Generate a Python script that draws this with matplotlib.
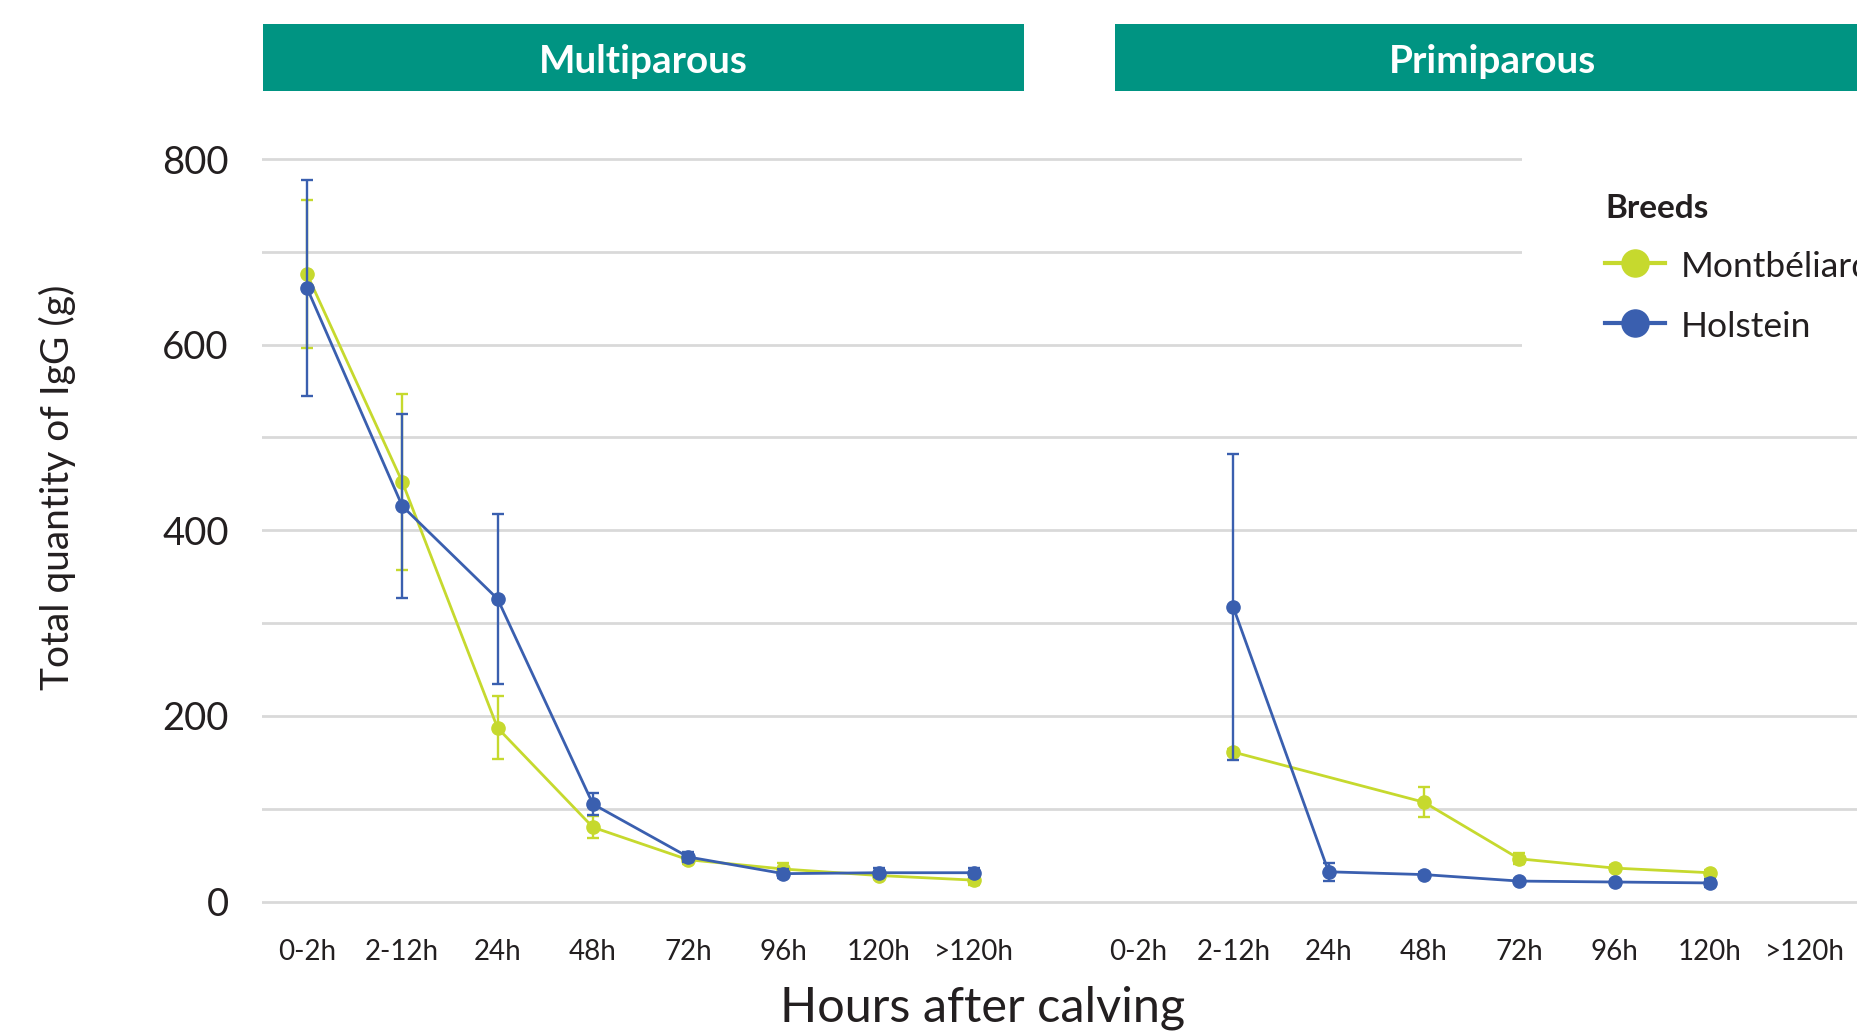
import numpy as np
import matplotlib
matplotlib.use("Agg")
import matplotlib.pyplot as plt
from matplotlib.patches import Rectangle

# ---------------- data ----------------
categories = ["0-2h", "2-12h", "24h", "48h", "72h", "96h", "120h", ">120h"]
panels = ["Multiparous", "Primiparous"]
breeds = ["Montbéliarde", "Holstein"]

multi_montbeliarde = [676, 452, 187, 80, 45, 35, 28, 23]
multi_montbeliarde_err = [80, 95, 34, 12, 5, 6, 4, 5]
multi_holstein = [661, 426, 326, 105, 48, 30, 31, 31]
multi_holstein_err = [116, 99, 92, 12, 5, 5, 5, 5]

prim_montbeliarde = [np.nan, 161, np.nan, 107, 46, 36, 31, np.nan]
prim_montbeliarde_err = [np.nan, 3, np.nan, 16, 6, 3, 3, np.nan]
prim_holstein = [np.nan, 317, 32, 29, 22, 21, 20, np.nan]
prim_holstein_err = [np.nan, 165, 10, 3, 2, 2, 4, np.nan]

y_ticks = [0, 200, 400, 600, 800]
y_grid = [0, 100, 200, 300, 400, 500, 600, 700, 800]

# ---------------- style ----------------
GREEN = "#C6D92E"
BLUE = "#3A5FAF"
TEAL = "#009482"
GRID = "#D9D9D9"
TEXT = "#231F20"

plt.rcParams['font.family'] = ['Lato', 'DejaVu Sans']

W, H, DPI = 1857, 1032, 100
fig = plt.figure(figsize=(W / DPI, H / DPI), dpi=DPI)
fig.patch.set_facecolor("white")

def fx(px):
    return px / W

def fy(py):
    return 1 - py / H

# layout (pixels)
x0_px, step_px, panel_offset = 307, 95.3, 8.72
y0_px, ppu = 901.5, 742.5 / 800
ax_left_px = 262
ylo, yhi = -20, 830
ax_bottom_px = y0_px - ylo * ppu
ax_top_px = y0_px - yhi * ppu

ax = fig.add_axes([fx(ax_left_px), fy(ax_bottom_px), fx(W - ax_left_px),
                   (ax_bottom_px - ax_top_px) / H])
ax.set_xlim((ax_left_px - x0_px) / step_px, (W - x0_px) / step_px)
ax.set_ylim(ylo, yhi)
for s in ax.spines.values():
    s.set_visible(False)

ax.set_yticks(y_grid, minor=True)
ax.set_yticks(y_ticks)
ax.yaxis.grid(True, which="both", color=GRID, lw=2.0)
ax.set_axisbelow(True)
ax.tick_params(axis="y", which="both", length=0, labelsize=27.5, labelcolor=TEXT, pad=24)
ax.tick_params(axis="x", length=0, labelsize=20, labelcolor=TEXT, pad=13.5)

series = [
    (multi_montbeliarde, multi_montbeliarde_err, multi_holstein, multi_holstein_err),
    (prim_montbeliarde, prim_montbeliarde_err, prim_holstein, prim_holstein_err),
]

xticks, xlabels = [], []
handles = {}
for p, (mv, me, hv, he) in enumerate(series):
    x = np.arange(len(categories)) + p * panel_offset
    xticks.extend(x)
    xlabels.extend(categories)
    z = 3
    for name, vals, errs, col in [(breeds[0], mv, me, GREEN), (breeds[1], hv, he, BLUE)]:
        vals = np.asarray(vals, float)
        errs = np.asarray(errs, float)
        m = ~np.isnan(vals)
        ax.errorbar(x[m], vals[m], yerr=errs[m], fmt="none", ecolor=col,
                    elinewidth=1.7, capsize=4.5, capthick=1.7, zorder=z)
        ln, = ax.plot(x[m], vals[m], color=col, lw=2.0, marker="o", ms=9.5,
                      zorder=z + 0.5)
        handles[name] = ln
        z += 1

ax.set_xticks(xticks)
ax.set_xticklabels(xlabels)

# legend
leg = ax.legend([handles[b] for b in breeds], breeds, title="Breeds",
                loc="upper left", bbox_to_anchor=(fx(1522), fy(111)),
                bbox_transform=fig.transFigure, borderaxespad=0,
                fontsize=25.5, title_fontproperties={"weight": "bold", "size": 24},
                alignment="left", borderpad=2.35, handlelength=1.7,
                handleheight=1.12, handletextpad=0.43, labelspacing=0.7,
                frameon=True, fancybox=False)
leg.get_frame().set_facecolor("white")
leg.get_frame().set_edgecolor("none")
leg.get_frame().set_alpha(1)
for t in leg.get_texts():
    t.set_color(TEXT)
leg.get_title().set_color(TEXT)
for h in leg.legend_handles:
    h.set_linewidth(3.0)
    h.set_markersize(19.5)

# strip headers
strips = [(263, 1024, 643.5), (1114.5, 1872, 1493)]
for (l, r, c), name in zip(strips, panels):
    fig.add_artist(Rectangle((fx(l), fy(91)), fx(r) - fx(l), (91 - 24) / H,
                             transform=fig.transFigure, facecolor=TEAL,
                             edgecolor="none"))
    fig.text(fx(c), fy(61.5), name, color="white", fontsize=27.8, fontweight="bold",
             ha="center", va="center")

# axis titles
fig.text(fx(57), fy(487), "Total quantity of IgG (g)", rotation=90, fontsize=28,
         color=TEXT, ha="center", va="center")
fig.text(fx(983), fy(1007.5), "Hours after calving", fontsize=35, color=TEXT,
         ha="center", va="center")

fig.savefig("out.png", dpi=DPI, facecolor="white")
